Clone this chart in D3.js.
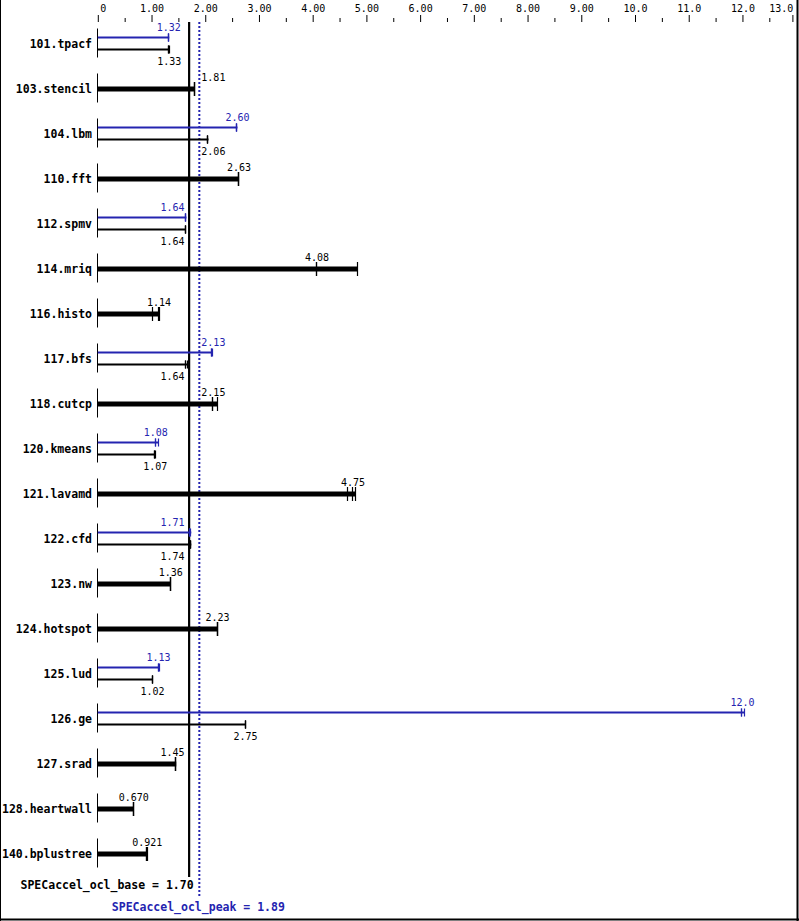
<!DOCTYPE html>
<html><head><meta charset="utf-8">
<script src="https://cdn.jsdelivr.net/npm/d3@7"></script>
<style>
html,body{margin:0;padding:0;background:#fff;}
svg{display:block;}
</style></head>
<body>
<svg id="chart" width="799" height="921"></svg>
<script>
const benchmarks = ["101.tpacf","103.stencil","104.lbm","110.fft","112.spmv","114.mriq","116.histo","117.bfs","118.cutcp","120.kmeans","121.lavamd","122.cfd","123.nw","124.hotspot","125.lud","126.ge","127.srad","128.heartwall","140.bplustree"];
const baseMedian = [1.33,1.81,2.06,2.63,1.64,4.08,1.14,1.64,2.15,1.07,4.75,1.74,1.36,2.23,1.02,2.75,1.45,0.670,0.921];
const peakMedian = [1.32,null,2.60,null,1.64,null,null,2.13,null,1.08,null,1.71,null,null,1.13,12.0,null,null,null];
const baseRuns = [[1.33,1.33,1.34],[1.81,1.81,1.81],[2.06,2.06,2.06],[2.63,2.63,2.63],[1.64,1.64,1.64],[4.08,4.08,4.84],[1.03,1.14,1.15],[1.64,1.64,1.67],[2.15,2.15,2.23],[1.07,1.07,1.08],[4.66,4.75,4.80],[1.74,1.74,1.74],[1.36,1.36,1.36],[2.23,2.23,2.23],[1.02,1.02,1.02],[2.75,2.75,2.75],[1.45,1.45,1.46],[0.670,0.670,0.670],[0.921,0.921,0.93]];
const peakRuns = [[1.32,1.32,1.33],null,[2.60,2.60,2.60],null,[1.64,1.64,1.65],null,null,[2.13,2.13,2.14],null,[1.08,1.08,1.13],null,[1.71,1.71,1.74],null,null,[1.13,1.13,1.15],[12.0,12.0,12.04],null,null,null];
const axisMax = 12.93;
const majorTicks = [0,1,2,3,4,5,6,7,8,9,10,11,12,axisMax];
const minorTicks = [0.5,1.5,2.5,3.5,4.5,5.5,6.5,7.5,8.5,9.5,10.5,11.5,12.5];
const baseScoreName = "SPECaccel_ocl_base", baseScore = 1.70;
const peakScoreName = "SPECaccel_ocl_peak", peakScore = 1.89;

const BLUE = "#2424b0";
const MONO = "'DejaVu Sans Mono', monospace";
const svg = d3.select("#chart");
const x = d3.scaleLinear().domain([0, axisMax]).range([97.8, 97.8 + axisMax*53.72]);
const y = d3.scalePoint().domain(benchmarks).range([43.5, 43.5 + 45*(benchmarks.length-1)]);
const fmt = d3.format(".3g");

// frame
svg.append("line").attr("x1",0.5).attr("x2",0.5).attr("y1",0).attr("y2",921).attr("stroke","#000");
svg.append("line").attr("x1",797.5).attr("x2",797.5).attr("y1",0).attr("y2",921).attr("stroke","#000").attr("stroke-width",2);
svg.append("line").attr("x1",0).attr("x2",799).attr("y1",919.5).attr("y2",919.5).attr("stroke","#000").attr("stroke-width",2);

// axis
const axisG = svg.append("g").attr("transform","translate(0,22)")
  .call(d3.axisTop(x).tickValues(majorTicks).tickSize(7).tickPadding(3)
    .tickFormat(d => d === 0 ? "0" : fmt(Math.ceil(d))));
axisG.select(".domain").remove();
axisG.selectAll("text").attr("font-family",MONO).attr("font-size","10px").attr("fill","#000");
axisG.selectAll(".tick").filter(d => d === 0).select("text").attr("text-anchor","start").attr("dx",2);
axisG.selectAll(".tick").filter(d => d === axisMax).select("text").attr("text-anchor","end").attr("dx",0.5);
const minorG = svg.append("g").attr("transform","translate(0,22)")
  .call(d3.axisTop(x).tickValues(minorTicks).tickSize(4).tickFormat(""));
minorG.select(".domain").remove();

const xb = x(baseScore), xp = x(peakScore);

// reference lines
svg.append("line").attr("x1",xb).attr("x2",xb).attr("y1",22).attr("y2",877)
  .attr("stroke","#000").attr("stroke-width",2.2);
svg.append("line").attr("x1",xp).attr("x2",xp).attr("y1",22).attr("y2",898)
  .attr("stroke",BLUE).attr("stroke-width",2).attr("stroke-dasharray","2,2");

function valueLabel(g, v, yBase, color) {
  const t = g.append("text").attr("x", x(v)).attr("y", yBase).attr("text-anchor","middle")
    .attr("font-family",MONO).attr("font-size","10px").attr("fill",color).text(fmt(v));
  const w = t.node().getComputedTextLength();
  let l = x(v) - w/2, r = x(v) + w/2;
  const zl = xb - 4.5, zr = xp + 2;
  if (r > zl && l < zr) {
    const moveL = r - zl, moveR = zr - l;
    if (moveL <= moveR) t.attr("x", x(v) - moveL);
    else t.attr("x", x(v) + moveR);
  }
}

function drawBar(g, runs, yy, thick, color) {
  const mx = d3.max(runs);
  g.append("line").attr("x1", x(0)).attr("x2", x(mx)).attr("y1", yy).attr("y2", yy)
    .attr("stroke", color).attr("stroke-width", thick ? 5 : 2);
  const h = thick ? 7 : 4;
  runs.forEach(r => {
    const xx = Math.round(x(r)) - 0.5;
    g.append("line").attr("x1", xx).attr("x2", xx).attr("y1", yy - h).attr("y2", yy + h)
      .attr("stroke", color).attr("stroke-width", 1.2);
  });
}

benchmarks.forEach((b, i) => {
  const yc = y(b);
  const g = svg.append("g");
  g.append("text").attr("x", 92).attr("y", yc + 4).attr("text-anchor","end")
    .attr("font-family",MONO).attr("font-weight","bold").attr("font-size","11.5px").attr("fill","#000").text(b);
  g.append("line").attr("x1", 97.5).attr("x2", 97.5).attr("y1", yc - 15).attr("y2", yc + 14).attr("stroke","#000");
  if (peakMedian[i] == null) {
    drawBar(g, baseRuns[i], yc + 0.5, true, "#000");
    valueLabel(g, baseMedian[i], yc - 8, "#000");
  } else {
    drawBar(g, peakRuns[i], yc - 6, false, BLUE);
    valueLabel(g, peakMedian[i], yc - 13, BLUE);
    drawBar(g, baseRuns[i], yc + 6, false, "#000");
    valueLabel(g, baseMedian[i], yc + 21.5, "#000");
  }
});

svg.append("text").attr("x", xb + 4.5).attr("y", 889).attr("text-anchor","end")
  .attr("font-family",MONO).attr("font-weight","bold").attr("font-size","11.5px").attr("fill","#000")
  .text(baseScoreName + " = " + fmt(baseScore));
svg.append("text").attr("x", xp - 1).attr("y", 911).attr("text-anchor","middle")
  .attr("font-family",MONO).attr("font-weight","bold").attr("font-size","11.5px").attr("fill",BLUE)
  .text(peakScoreName + " = " + fmt(peakScore));
</script>
</body></html>
